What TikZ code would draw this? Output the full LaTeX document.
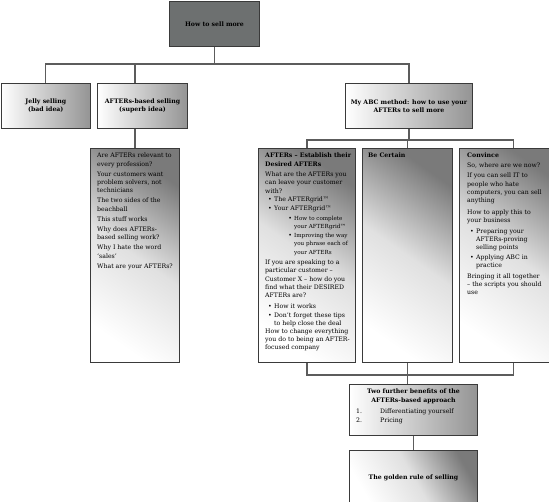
\documentclass[tikz,border=0pt]{standalone}
\usepackage{fontspec}
\setmainfont{DejaVu Serif}
\definecolor{boxline}{HTML}{3A3A3A}
\definecolor{linkgrey}{HTML}{5C5C5C}
\definecolor{topgrey}{HTML}{6D7070}
\newcommand{\bul}{\makebox[9pt][r]{\textbullet\hspace{2.5pt}}}
\newcommand{\bulgap}{\hspace*{9pt}}
\newcommand{\subbul}{\makebox[29pt][r]{\textbullet\hspace{2.2pt}}\fontsize{5.6}{7.9}\selectfont}
\newcommand{\subbulgap}{\hspace*{29pt}\fontsize{5.6}{7.9}\selectfont}
\tikzset{
	chartbox/.style={draw=boxline, line width=1pt, rectangle, anchor=north west, inner sep=0pt},
	widebox/.style={chartbox, left color=white, right color=black!42, align=center, font=\fontsize{6.2}{8.2}\selectfont\bfseries},
	tallbox/.style={chartbox, top color=black!52, bottom color=white, middle color=white!88!black, shading angle=-35},
	boxtext/.style={inner sep=0pt, align=left, anchor=north west, font=\fontsize{6.2}{8.2}\selectfont},
	headtext/.style={inner sep=0pt, align=center, font=\fontsize{6.2}{8.2}\selectfont\bfseries},
	link/.style={draw=linkgrey, line width=1.3pt}
}
\begin{document}
\begin{tikzpicture}[x=1pt, y=-1pt]
	\useasboundingbox (0,0) rectangle (549,502);
	\clip (0,0) rectangle (549,502);
	% top of the tree
	\node[chartbox, fill=topgrey, minimum width=90pt, minimum height=45pt, font=\fontsize{6.2}{8.2}\selectfont\bfseries] (top) at (169,1) {How to sell more};
	\node[widebox, minimum width=89.5pt, minimum height=45pt] (jelly) at (0.5,83) {Jelly selling\\(bad idea)};
	\node[widebox, minimum width=90pt, minimum height=45pt] (based) at (97,83) {AFTERs-based selling\\(superb idea)};
	\node[widebox, minimum width=127pt, minimum height=45pt] (abc) at (345,83) {My ABC method: how to use your\\AFTERs to sell more};
	% tall boxes
	\node[tallbox, minimum width=89pt, minimum height=214pt] (are) at (90,148) {};
	\node[tallbox, minimum width=97pt, minimum height=214pt] (estab) at (258,148) {};
	\node[tallbox, minimum width=90pt, minimum height=214pt] (certain) at (362,148) {};
	\node[tallbox, minimum width=108pt, minimum height=214pt] (convince) at (459,148) {};
	% bottom
	\node[widebox, minimum width=128pt, minimum height=51pt] (two) at (349,384) {};
	\node[tallbox, minimum width=128pt, minimum height=54pt, shading angle=-60, align=center, font=\fontsize{6.2}{8.2}\selectfont\bfseries] (golden) at (349,450) {The golden rule of selling};

	\node[boxtext] (aretxt) at ([shift={(7,5)}]are.north west) {Are AFTERs relevant to\\
		every profession?\\[2pt]
		Your customers want\\
		problem solvers, not\\
		technicians\\[2pt]
		The two sides of the\\
		beachball\\[2pt]
		This stuff works\\[2pt]
		Why does AFTERs-\\
		based selling work?\\[2pt]
		Why I hate the word\\
		`sales'\\[2pt]
		What are your AFTERs?};
	\node[boxtext] (estabtxt) at ([shift={(7,5)}]estab.north west) {\textbf{AFTERs -- Establish their}\\
		\textbf{Desired AFTERs}\\[2.4pt]
		What are the AFTERs you\\
		can leave your customer\\
		with?\\[0.6pt]
		\bul The AFTERgrid\texttrademark\\[0.8pt]
		\bul Your AFTERgrid\texttrademark\\[1.2pt]
		\subbul How to complete\\
		\subbulgap your AFTERgrid\texttrademark\\[1pt]
		\subbul Improving the way\\
		\subbulgap you phrase each of\\
		\subbulgap your AFTERs\\[2.4pt]
		If you are speaking to a\\
		particular customer --\\
		Customer X -- how do you\\
		find what their DESIRED\\
		AFTERs are?\\[2.5pt]
		\bul How it works\\[0.6pt]
		\bul Don't forget these tips\\
		\bulgap to help close the deal\\
		How to change everything\\
		you do to being an AFTER-\\
		focused company};
	\node[boxtext] (certaintxt) at ([shift={(6,5)}]certain.north west) {\textbf{Be Certain}};
	\node[boxtext] (convincetxt) at ([shift={(8,5)}]convince.north west) {\textbf{Convince}\\[1.8pt]
		So, where are we now?\\[1.8pt]
		If you can sell IT to\\
		people who hate\\
		computers, you can sell\\
		anything\\[4pt]
		How to apply this to\\
		your business\\[2.4pt]
		\bul Preparing your\\
		\bulgap AFTERs-proving\\
		\bulgap selling points\\[1.2pt]
		\bul Applying ABC in\\
		\bulgap practice\\[2.4pt]
		Bringing it all together\\
		-- the scripts you should\\
		use};
	\node[headtext, anchor=north] (twohead) at ([yshift=-5pt]two.north) {Two further benefits of the\\AFTERs-based approach};
	\node[boxtext] (twolist) at ([shift={(7,25)}]two.north west) {\makebox[24pt][l]{1.}Differentiating yourself\\
		\makebox[24pt][l]{2.}Pricing};

	% connectors
	\draw[link] (top.south) -- ++(0,17) coordinate (topbus);
	\draw[link] (jelly.north) |- (topbus) -| (abc.north);
	\draw[link] (are.north |- based.north) -- (are.north |- topbus);
	\draw[link] (are.north) -- (are.north |- based.south);
	\draw[link] (abc.south) -- ++(0,11) coordinate (abcbus);
	\draw[link] (estab.north) |- (abcbus) -| (convince.north);
	\draw[link] (certain.north) -- (certain.north |- abcbus);
	\draw[link] (estab.south) -- ++(0,12) -| (convince.south);
	\draw[link] (certain.south) -- (certain.south |- two.north);
	\draw[link] (two.south) -- (two.south |- golden.north);
\end{tikzpicture}
\end{document}
